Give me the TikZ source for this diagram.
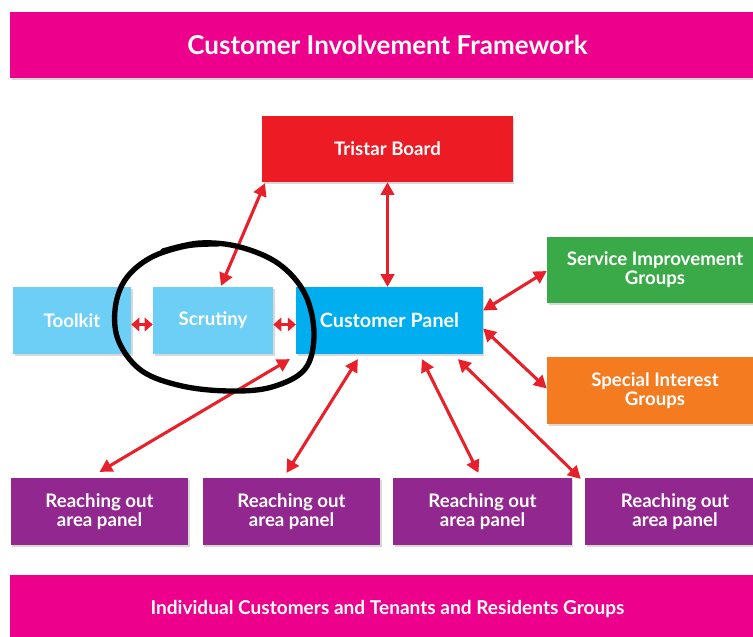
\documentclass[tikz,border=0pt]{standalone}
\usepackage{fontspec}
\setmainfont{Lato}
\usetikzlibrary{arrows.meta,calc,shadows}

\definecolor{magentabar}{HTML}{EC008C}
\definecolor{boardred}{HTML}{ED1C24}
\definecolor{paleblue}{HTML}{6DCFF6}
\definecolor{panelblue}{HTML}{00AEEF}
\definecolor{groupgreen}{HTML}{3AAA48}
\definecolor{grouporange}{HTML}{F47B20}
\definecolor{reachpurple}{HTML}{92278F}
\definecolor{linkred}{HTML}{E8202A}

\tikzset{
  box/.style={rectangle, inner sep=0pt, text=white, align=center,
    font=\bfseries\fontsize{14}{14.3}\selectfont,
    drop shadow={shadow xshift=1.2pt, shadow yshift=-1.5pt, opacity=0.25, fill=black!60}},
  banner/.style={box, fill=magentabar, minimum width=566pt},
  link/.style={draw=linkred, line width=2.3pt,
    {Triangle[length=9.5pt,width=10pt]}-{Triangle[length=9.5pt,width=10pt]}},
  shortlink/.style={draw=linkred, line width=2.3pt,
    {Triangle[length=6pt,width=10pt]}-{Triangle[length=6pt,width=10pt]}},
  mark circle/.style={draw=black, line width=4pt, line cap=round, line join=round}
}

\begin{document}
\begin{tikzpicture}[x=0.75pt,y=-0.75pt]
  \clip (0,0) rectangle (753,636);
  \fill[white] (0,0) rectangle (753,636);

  % banners
  \node[banner, minimum height=49.5pt, font=\bfseries\fontsize{19.5}{22}\selectfont]
    (title) at (387.5,45) {Customer Involvement Framework};
  \node[banner, minimum height=51pt, font=\bfseries\fontsize{14.3}{16}\selectfont]
    (base) at (387.5,609) {Individual Customers and Tenants and Residents Groups};

  % governance and panels
  \node[box, fill=boardred, minimum width=188pt, minimum height=49.5pt]
    (tb) at (387.5,149) {Tristar Board};
  \node[box, fill=paleblue, minimum width=88.5pt, minimum height=50pt]
    (tk) at (72,320.5) {Toolkit};
  \node[box, fill=paleblue, minimum width=90pt, minimum height=50pt]
    (sc) at (213,320.5) {Scrutiny};
  \node[box, fill=panelblue, minimum width=140pt, minimum height=50pt,
    font=\bfseries\fontsize{14.8}{16}\selectfont]
    (cp) at (389.5,320.5) {Customer Panel};
  \node[box, fill=groupgreen, minimum width=162pt, minimum height=49.5pt]
    (sig) at (655,270) {Service Improvement\\Groups};
  \node[box, fill=grouporange, minimum width=162pt, minimum height=50pt]
    (spg) at (655,390.5) {Special Interest\\Groups};

  % area panels
  \node[box, fill=reachpurple, minimum width=133pt, minimum height=50pt]
    (r1) at (99.5,511.5) {Reaching out\\area panel};
  \node[box, fill=reachpurple, minimum width=133pt, minimum height=50pt]
    (r2) at (291.5,511.5) {Reaching out\\area panel};
  \node[box, fill=reachpurple, minimum width=134pt, minimum height=50pt]
    (r3) at (482.5,511.5) {Reaching out\\area panel};
  \node[box, fill=reachpurple, minimum width=135pt, minimum height=50pt]
    (r4) at (675,511.5) {Reaching out\\area panel};

  % connectors
  \draw[link] (tb.south) -- (tb.south |- cp.north);
  \draw[link] ($(tb.south west)+(3,1)$) -- ($(sc.north)+(8,-1)$);
  \draw[shortlink] ($(tk.east)+(0,4)$) -- ($(sc.west)+(0,4)$);
  \draw[shortlink] ($(sc.east)+(0,4)$) -- ($(cp.west)+(0,4)$);
  \draw[link] ($(cp.east)+(0,-10)$) -- ($(sig.west)+(0,1)$);
  \draw[link] ($(cp.east)+(0,8)$) -- ($(spg.west)+(0,-2)$);
  \draw[link] ($(r1.north)+(0,-6)$) -- ($(cp.south west)+(-6,5)$);
  \draw[link] ($(r2.north)+(-5,-5)$) -- ($(cp.south west)+(62,5)$);
  \draw[link] ($(r3.north)+(-4,-5)$) -- ($(cp.south west)+(126,5)$);
  \draw[link] ($(r4.north west)+(-4,1)$) -- ($(cp.south west)+(162,5)$);

  % hand-drawn ring around Scrutiny
  \draw[mark circle] plot[smooth, tension=0.6] coordinates {
    (163,251) (200,243) (240,247) (279,264) (305,294) (314,334) (305,369)
    (272,387) (230,391) (182,386) (142,371) (119,342) (115,310) (125,280)
    (150,258) (186,246) (218,244)};
\end{tikzpicture}
\end{document}
